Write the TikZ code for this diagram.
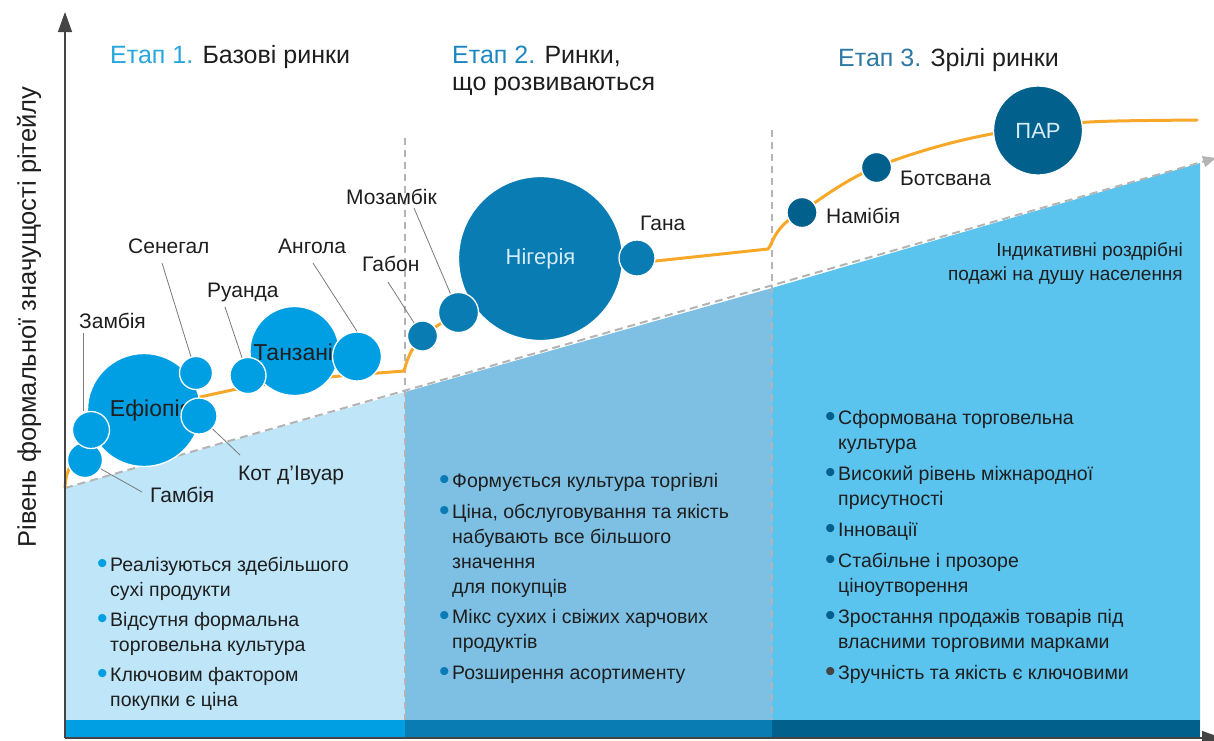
\documentclass[tikz,border=0pt]{standalone}
\usepackage{fontspec}
\setmainfont{Liberation Sans}
\usepackage{xcolor}
\usetikzlibrary{arrows.meta}

\definecolor{stageone}{HTML}{009FE3}
\definecolor{stagetwo}{HTML}{0A7CB4}
\definecolor{stagethree}{HTML}{02618C}
\definecolor{bgone}{HTML}{BEE5F8}
\definecolor{bgtwo}{HTML}{7DC0E3}
\definecolor{bgthree}{HTML}{5AC3EE}
\definecolor{curveorange}{HTML}{F7A829}
\definecolor{axisgray}{HTML}{444444}
\definecolor{dashgray}{HTML}{B4B4B4}
\definecolor{leadgray}{HTML}{7A7A7A}
\definecolor{titleone}{HTML}{27A6DE}
\definecolor{titletwo}{HTML}{1B87C2}
\definecolor{titlethree}{HTML}{2E78A4}
\definecolor{inlbl}{HTML}{D6ECF8}
\definecolor{txt}{HTML}{1E1E1E}

\newcommand{\bulitem}[2]{\parbox[t]{380pt}{\raggedright\makebox[0pt][r]{\raisebox{-2.5pt}{\fontsize{30}{25}\selectfont\textcolor{#1}{\textbullet}}\hspace{2.5pt}}#2}}

\tikzset{
    country/.style={circle, draw=white, line width=1.3pt, inner sep=0pt, minimum size=#1},
    lbl/.style={font=\fontsize{21}{24}\selectfont, text=txt, inner sep=0pt, anchor=base west},
    leader/.style={draw=leadgray, line width=0.8pt},
    bul/.style={font=\fontsize{19.5}{25}\selectfont, text=txt, inner sep=0pt, anchor=base west},
    stagetitle/.style={font=\fontsize{25}{27}\selectfont, text=txt, inner sep=0pt, anchor=base west},
    stagedash/.style={dashgray, line width=1.6pt, dash pattern=on 7pt off 5pt}
}

\begin{document}
\begin{tikzpicture}[x=1pt, y=-1pt]
    \useasboundingbox (0,0) rectangle (1214,740);

    % corners of the areas
    \coordinate (origin) at (65,738);
    \coordinate (ytop) at (65,12);
    \coordinate (xend) at (1222,738);
    \coordinate (diagA) at (65,488);
    \coordinate (diagB) at (405,392);
    \coordinate (diagC) at (772,288);
    \coordinate (diagD) at (1200,163);
    \coordinate (diagE) at (1216,158);

    % background areas under the sales line
    \fill[bgone] (diagA) -- (diagB) -- (405,738) -- (65,738) -- cycle;
    \fill[bgtwo] (diagB) -- (diagC) -- (772,738) -- (405,738) -- cycle;
    \fill[bgthree] (diagC) -- (diagD) -- (1200,738) -- (772,738) -- cycle;

    % bars at the bottom
    \fill[stageone] (65,720) rectangle (405,738);
    \fill[stagetwo] (405,720) rectangle (772,738);
    \fill[stagethree] (772,720) rectangle (1200,738);

    % stage borders
    \draw[stagedash] (405,138) -- (405,720);
    \draw[stagedash] (772,130) -- (772,720);

    % sales per capita
    \draw[dashgray, line width=2pt, dash pattern=on 8pt off 5pt, -{Triangle[length=13pt,width=11pt]}] (diagA) -- (diagE);

    % the curve
    \draw[curveorange, line width=3pt, line cap=round]
        (65,488) .. controls (66,468) and (72,460) .. (88,452)
        .. controls (120,430) and (160,405) .. (200,397) -- (232,390)
        .. controls (280,382) .. (340,376) -- (404,371)
        .. controls (407,360) and (410,350) .. (422,336) -- (458,312) -- (540,280) -- (637,263) -- (768,249)
        .. controls (772,246) and (774,225) .. (802,212)
        .. controls (825,195) and (850,178) .. (876,167)
        .. controls (920,150) and (975,134) .. (1038,127)
        .. controls (1090,121) .. (1197,120);

    % stage 1 markets
    \node[country=113pt, fill=stageone, label={[font=\fontsize{23}{24}\selectfont, text=txt, xshift=7pt, yshift=-1pt]center:Ефіопія}] (eth) at (144,410) {};
    \node[country=35pt, fill=stageone] (gam) at (85,460) {};
    \node[country=37pt, fill=stageone] (zam) at (91,430) {};
    \node[country=36pt, fill=stageone] (civ) at (199,416) {};
    \node[country=33pt, fill=stageone] (sen) at (196,373) {};
    \node[country=89pt, fill=stageone, label={[font=\fontsize{23}{24}\selectfont, text=txt, xshift=5pt, yshift=-1pt]center:Танзанія}] (tan) at (294.5,351) {};
    \node[country=36pt, fill=stageone] (rwa) at (248,375.5) {};
    \node[country=49pt, fill=stageone] (ang) at (357,356.5) {};

    % stage 2 markets
    \node[country=164pt, fill=stagetwo, text=inlbl, font=\fontsize{22}{24}\selectfont] (nig) at (540.5,258.5) {Нігерія};
    \node[country=40pt, fill=stagetwo] (moz) at (458.5,312.5) {};
    \node[country=30pt, fill=stagetwo] (gab) at (422.5,336) {};
    \node[country=36pt, fill=stagetwo] (gha) at (637,258) {};

    % stage 3 markets
    \node[country=30pt, fill=stagethree] (nam) at (802,212.5) {};
    \node[country=30pt, fill=stagethree] (bot) at (876.5,167.5) {};
    \node[country=89pt, fill=stagethree, text=inlbl, font=\fontsize{22}{24}\selectfont] (par) at (1038,130.5) {ПАР};

    % country names
    \node[lbl] (zam-l) at (79,328) {Замбія};
    \node[lbl] (sen-l) at (128,253) {Сенегал};
    \node[lbl] (rwa-l) at (207,297) {Руанда};
    \node[lbl] (ang-l) at (278,253) {Ангола};
    \node[lbl] (gab-l) at (362,271) {Габон};
    \node[lbl] (moz-l) at (346,204) {Мозамбік};
    \node[lbl] (civ-l) at (238,480) {Кот д’Івуар};
    \node[lbl] (gam-l) at (150,502) {Гамбія};
    \node[lbl] (gha-l) at (640,230) {Гана};
    \node[lbl] (nam-l) at (826,223) {Намібія};
    \node[lbl] (bot-l) at (900,185) {Ботсвана};

    % leader lines
    \coordinate (zam-s) at (83,333);
    \coordinate (sen-s) at (162,263);
    \coordinate (rwa-s) at (225,307);
    \coordinate (ang-s) at (313,263);
    \coordinate (gab-s) at (388,282);
    \coordinate (moz-s) at (414,208);
    \coordinate (civ-e) at (240,455);
    \coordinate (gam-e) at (142,492);
    \draw[leader] (zam-s) -- (zam-s |- zam.north);
    \draw[leader] (sen-s) -- (sen);
    \draw[leader] (rwa-s) -- (rwa);
    \draw[leader] (ang-s) -- (ang.north);
    \draw[leader] (gab-s) -- (gab);
    \draw[leader] (moz-s) -- (moz);
    \draw[leader] (civ) -- (civ-e);
    \draw[leader] (gam) -- (gam-e);

    % stage titles
    \node[stagetitle] (title1) at (110,63) {\textcolor{titleone}{Етап 1.} Базові ринки};
    \node[stagetitle] (title2) at (452,63) {\parbox[t]{300pt}{\raggedright\textcolor{titletwo}{Етап 2.} Ринки,\\що розвиваються}};
    \node[stagetitle] (title3) at (838,66) {\textcolor{titlethree}{Етап 3.} Зрілі ринки};

    % sales label
    \node[inner sep=0pt, anchor=base east, text=txt, font=\fontsize{19}{24}\selectfont] (sales) at (1183,256)
        {\parbox[t]{300pt}{\raggedleft Індикативні роздрібні\\подажі на душу населення}};

    % stage 1 features
    \node[bul] (b11) at (110,571) {\bulitem{stageone}{Реалізуються здебільшого\\сухі продукти}};
    \node[bul] (b12) at (110,626) {\bulitem{stageone}{Відсутня формальна\\торговельна культура}};
    \node[bul] (b13) at (110,681) {\bulitem{stageone}{Ключовим фактором\\покупки є ціна}};

    % stage 2 features
    \node[bul] (b21) at (452,487) {\bulitem{stagetwo}{Формується культура торгівлі}};
    \node[bul] (b22) at (452,518) {\bulitem{stagetwo}{Ціна, обслуговування та якість\\набувають все більшого\\значення\\для покупців}};
    \node[bul] (b23) at (452,623) {\bulitem{stagetwo}{Мікс сухих і свіжих харчових\\продуктів}};
    \node[bul] (b24) at (452,679) {\bulitem{stagetwo}{Розширення асортименту}};

    % stage 3 features
    \node[bul] (b31) at (838,424) {\bulitem{stagethree}{Сформована торговельна\\культура}};
    \node[bul] (b32) at (838,480) {\bulitem{stagethree}{Високий рівень міжнародної\\присутності}};
    \node[bul] (b33) at (838,536) {\bulitem{stagethree}{Інновації}};
    \node[bul] (b34) at (838,567) {\bulitem{stagethree}{Стабільне і прозоре\\ціноутворення}};
    \node[bul] (b35) at (838,623) {\bulitem{stagethree}{Зростання продажів товарів під\\власними торговими марками}};
    \node[bul] (b36) at (838,679) {\bulitem{axisgray}{Зручність та якість є ключовими}};

    % axes
    \draw[axisgray, line width=1.4pt, -{Triangle[length=20pt,width=14pt]}] (origin) -- (ytop);
    \draw[axisgray, line width=1.4pt, -{Triangle[length=20pt,width=14pt]}] (origin) -- (xend);
    \node[rotate=90, inner sep=0pt, text=txt, font=\fontsize{25.5}{27}\selectfont] (ylabel) at (29,317) {Рівень формальної значущості рітейлу};
\end{tikzpicture}
\end{document}
